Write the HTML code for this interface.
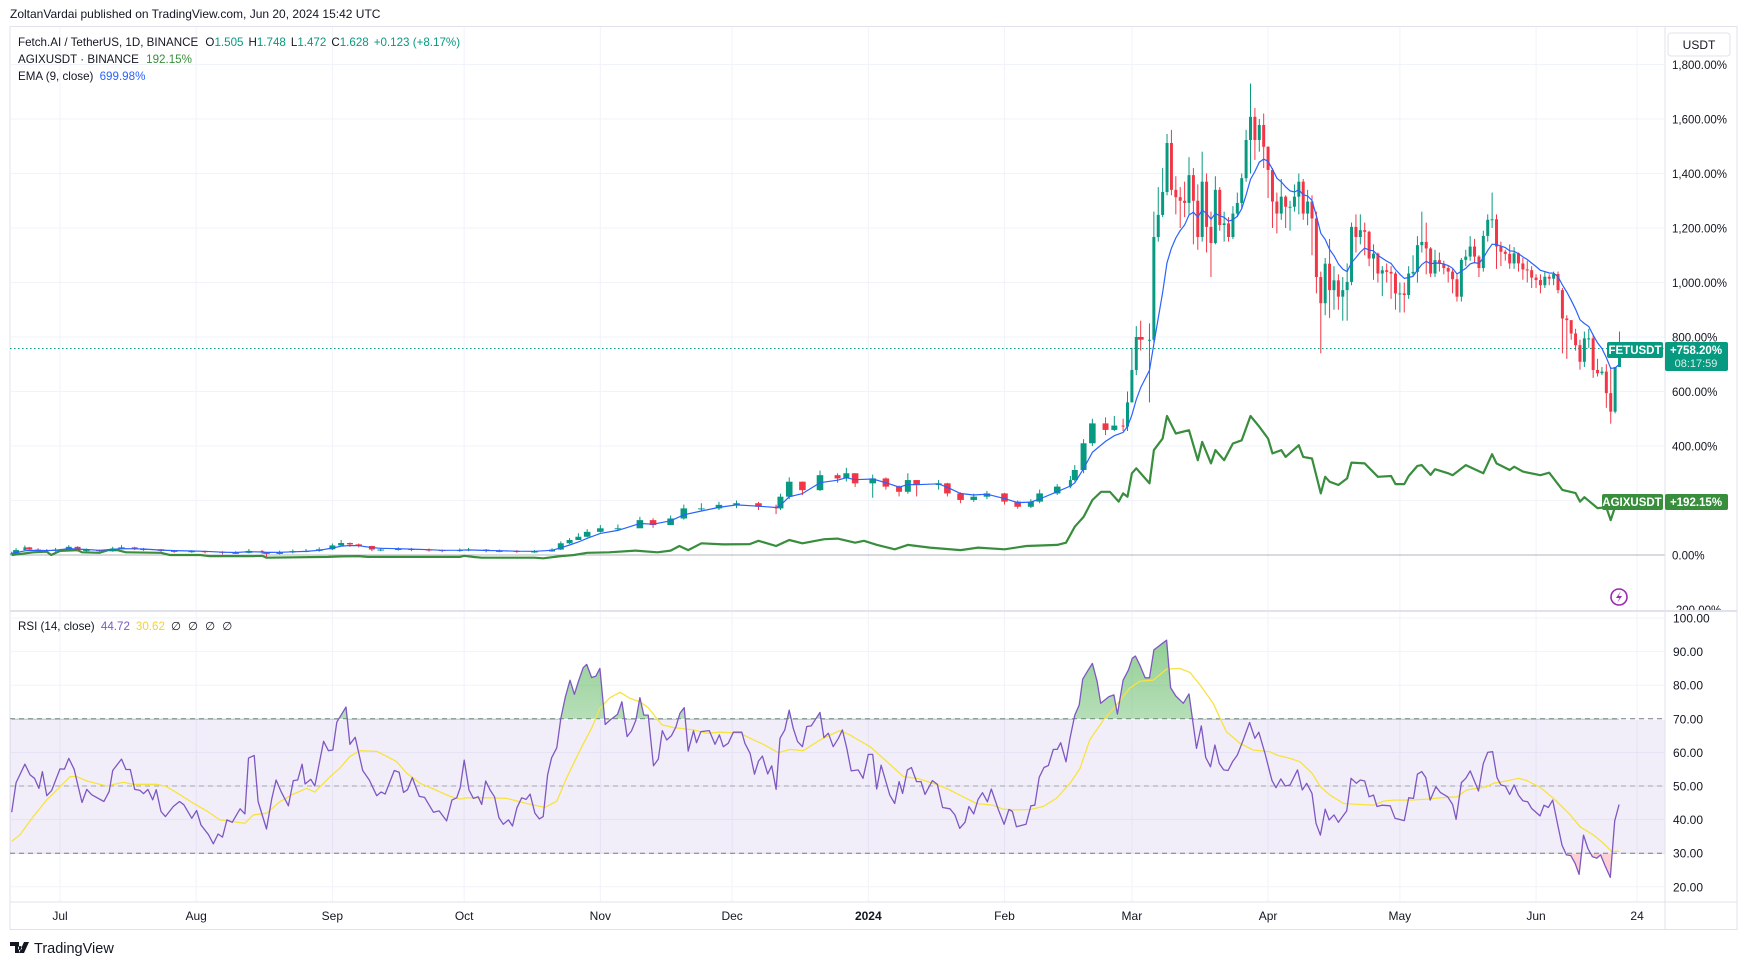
<!DOCTYPE html>
<html><head><meta charset="utf-8"><style>
html,body{margin:0;padding:0;background:#fff;}
svg{display:block;font-family:"Liberation Sans",sans-serif;}
</style></head><body>
<svg id="chart" width="1747" height="965" viewBox="0 0 1747 965" xmlns="http://www.w3.org/2000/svg">
<defs>
<clipPath id="mainClip"><rect x="10" y="27" width="1655" height="583"/></clipPath>
<clipPath id="rsiClip"><rect x="10" y="612" width="1655" height="290"/></clipPath>
<clipPath id="axisClip"><rect x="1665" y="27" width="72" height="583"/></clipPath>
<clipPath id="obc"><rect x="0" y="600" width="1747" height="120"/></clipPath>
<clipPath id="osc"><rect x="0" y="854" width="1747" height="60"/></clipPath>
<linearGradient id="obGrad" x1="0" y1="0" x2="0" y2="1"><stop offset="0" stop-color="#4caf50" stop-opacity="0.6"/><stop offset="1" stop-color="#4caf50" stop-opacity="0.02"/></linearGradient>
<linearGradient id="osGrad" x1="0" y1="0" x2="0" y2="1"><stop offset="0" stop-color="#f23645" stop-opacity="0.02"/><stop offset="1" stop-color="#f23645" stop-opacity="0.25"/></linearGradient>
</defs>
<text x="10" y="18" font-size="12" fill="#131722">ZoltanVardai published on TradingView.com, Jun 20, 2024 15:42 UTC</text>
<rect x="10" y="26.5" width="1727" height="903" fill="#fff" stroke="#e0e3eb"/>
<g id="grid"></g>
<rect x="10" y="720" width="1655" height="134" fill="#7e57c2" fill-opacity="0.1"/>
<g id="rsiGrid"></g>
<g id="mainPlot" clip-path="url(#mainClip)"></g>
<g id="rsiPlot" clip-path="url(#rsiClip)"></g>
<line x1="10" y1="611" x2="1737" y2="611" stroke="#e0e3eb" stroke-width="2"/>
<line x1="1665" y1="27" x2="1665" y2="930" stroke="#e0e3eb"/>
<line x1="10" y1="902" x2="1737" y2="902" stroke="#e0e3eb"/>
<g id="axes"></g>
<g font-size="11.6" fill="#131722">
<text x="18" y="46">Fetch.AI / TetherUS, 1D, BINANCE <tspan dx="4">O</tspan><tspan fill="#089981">1.505</tspan><tspan dx="5">H</tspan><tspan fill="#089981">1.748</tspan><tspan dx="5">L</tspan><tspan fill="#089981">1.472</tspan><tspan dx="5">C</tspan><tspan fill="#089981">1.628</tspan><tspan dx="5" fill="#089981">+0.123 (+8.17%)</tspan></text>
<text x="18" y="63">AGIXUSDT · BINANCE <tspan dx="4" fill="#388e3c">192.15%</tspan></text>
<text x="18" y="80">EMA (9, close) <tspan dx="3" fill="#2962ff">699.98%</tspan></text>
</g>
<g font-size="11.6" fill="#131722">
<text x="18" y="630">RSI (14, close) <tspan dx="3" fill="#7e57c2">44.72</tspan><tspan dx="6" fill="#f2d23a">30.62</tspan><tspan dx="6">∅</tspan><tspan dx="7">∅</tspan><tspan dx="7">∅</tspan><tspan dx="7">∅</tspan></text>
</g>
<g><rect x="1668" y="33" width="62" height="23" rx="3" fill="#fff" stroke="#e0e3eb"/><text x="1699" y="49" font-size="12" text-anchor="middle" fill="#131722">USDT</text></g>
<g>
<rect x="1607" y="342" width="56" height="16" rx="2" fill="#089981"/><text x="1635" y="354" font-size="11.5" font-weight="bold" text-anchor="middle" fill="#fff">FETUSDT</text>
<rect x="1665" y="342" width="63" height="29" rx="2" fill="#089981"/><text x="1696" y="354" font-size="11.5" font-weight="bold" text-anchor="middle" fill="#fff">+758.20%</text><text x="1696" y="367" font-size="11" text-anchor="middle" fill="#d5f0ea">08:17:59</text>
</g>
<g>
<rect x="1602" y="494" width="61" height="16" rx="2" fill="#388e3c"/><text x="1632" y="506" font-size="11.5" font-weight="bold" text-anchor="middle" fill="#fff">AGIXUSDT</text>
<rect x="1665" y="494" width="63" height="16" rx="2" fill="#388e3c"/><text x="1696" y="506" font-size="11.5" font-weight="bold" text-anchor="middle" fill="#fff">+192.15%</text>
</g>
<g><circle cx="1619" cy="597" r="8" fill="#fff" stroke="#9c27b0" stroke-width="1.6"/><path d="M1621 591 L1616 598 L1619.5 598 L1617 603 L1622 596 L1618.5 596 Z" fill="#9c27b0"/></g>
<g><path d="M10 942 H19 V953 H15 V946 H10 Z M20 946 a2 2 0 1 0 0.01 0 Z M24 942 H29 L24 953 H19 Z" fill="#131722"/><text x="34" y="953" font-size="14.5" fill="#131722">TradingView</text></g>
</svg>
<script>
// ---------- data ----------
const candleDays=[0,1,3,4,6,8,10,13,15,17,20,23,25,28,30,34,37,41,44,48,51,54,57,58,61,64,67,70,73,75,77,79,82,84,88,91,95,98,102,104,108,111,115,119,123,125,127,129,131,134,138,143,146,150,153,157,161,165,170,174,175,177,180,184,188,190,192,196,199,202,204,206,211,213,216,219,222,226,229,232,234,238,241,242,244,246,249,251,253,254,255,256,257,259,260,261,262,263,264,265,266,267,268,269,270,271,272,273,274,275,276,277,278,279,280,281,282,283,284,285,286,287,288,289,290,291,292,293,294,295,296,297,298,299,300,301,302,303,304,305,306,307,308,309,310,311,312,313,314,315,316,317,318,319,320,321,322,323,324,325,326,327,328,329,330,331,332,333,334,335,336,337,338,339,340,341,342,343,344,345,346,347,348,349,350,351,352,353,354,355,356,357,358,359,360,361,362,363,364,365,366];
const candleClose=[6,18,28,20,18,15,20,30,18,18,14,24,28,22,21,15,14,14,12,8,8,15,10,4,10,14,15,21,35,44,39,33,20,20,22,20,18,15,18,20,15,15,13,13,20,43,55,67,85,98,98,128,110,134,171,171,184,190,177,171,214,269,238,293,281,300,263,281,251,232,275,257,263,226,202,214,226,196,177,196,226,251,275,312,410,483,459,475,471,560,679,800,790,790,1167,1248,1332,1512,1340,1313,1300,1292,1394,1300,1167,1370,1204,1145,1340,1211,1217,1167,1253,1292,1383,1523,1608,1523,1578,1498,1413,1297,1253,1315,1278,1278,1315,1370,1253,1297,1235,1020,924,1069,972,1008,948,972,1002,1204,1167,1192,1186,1088,1106,1033,1045,1039,1033,960,960,954,1033,1039,1137,1149,1125,1033,1082,1069,1053,1040,1012,948,1083,1095,1132,1095,1053,1171,1230,1232,1132,1113,1105,1070,1107,1070,1048,1045,1018,1009,990,1021,1014,1031,972,868,862,813,770,709,795,795,679,667,673,594,526,690,758];
const candleHigh=[12,25,35,30,25,22,26,36,32,24,20,30,36,30,26,22,18,18,16,14,14,22,18,10,16,20,22,28,42,55,46,42,34,26,28,26,24,20,24,26,22,20,18,18,25,50,62,80,95,110,112,140,135,145,185,190,195,200,195,185,225,285,270,310,300,320,300,295,285,255,300,275,275,265,230,225,235,228,200,205,240,260,290,330,425,500,505,510,500,600,760,840,860,850,1260,1350,1420,1545,1560,1390,1350,1370,1460,1420,1360,1480,1400,1260,1390,1350,1260,1240,1280,1330,1400,1560,1730,1640,1600,1620,1500,1420,1330,1380,1320,1300,1360,1400,1380,1340,1320,1260,1040,1090,1160,1060,1030,1020,1070,1220,1250,1250,1220,1190,1140,1110,1060,1070,1060,1040,1000,1000,1060,1100,1170,1260,1220,1130,1120,1110,1080,1060,1050,1030,1090,1120,1170,1160,1100,1190,1250,1330,1250,1150,1120,1140,1130,1110,1090,1080,1060,1030,1030,1040,1030,1040,1040,980,880,840,830,790,820,830,810,720,690,700,690,640,820];
const candleLow=[2,5,18,15,12,10,12,18,14,12,8,12,20,18,15,10,8,8,6,2,4,6,4,-6,2,6,10,12,18,32,30,28,14,14,16,14,12,10,12,14,10,10,8,8,12,18,40,55,65,82,88,100,100,110,130,160,165,172,165,150,165,205,220,235,265,270,250,210,240,215,225,215,240,215,190,195,205,185,170,172,190,220,245,270,300,400,440,455,455,455,640,660,750,560,780,1150,1240,1320,1320,1250,1200,1240,1250,1140,1120,1150,1110,1020,1140,1190,1150,1150,1160,1240,1270,1370,1400,1450,1480,1420,1310,1200,1180,1230,1200,1190,1260,1250,1230,1210,1100,960,740,880,870,900,900,860,860,990,1110,1140,1100,1060,1010,1000,950,1000,940,900,890,890,940,1020,1000,1110,1030,1020,1020,1040,1030,1000,960,930,930,1060,1080,1070,1020,1040,1150,1200,1050,1060,1080,1050,1050,1040,1010,1000,980,980,960,980,990,990,960,740,720,790,750,680,690,760,650,655,660,540,482,520,700];
const agixDays=[0,5,8,9,11,15,16,20,22,24,26,34,36,43,45,55,57,58,72,75,79,81,102,103,105,107,119,121,125,128,131,136,142,147,150,152,154,157,162,168,170,174,177,180,185,188,192,194,197,201,204,209,216,220,226,231,238,240,242,244,246,248,250,252,253,254,255,256,259,260,262,263,265,268,270,271,273,274,276,278,280,282,284,286,287,289,290,293,294,296,298,299,300,302,304,305,308,311,314,315,317,318,320,321,323,324,327,328,331,335,337,338,341,342,344,348,350,353,356,357,358,361,363,364,365,366];
const agixVals=[0,10,12,0,15,18,10,8,18,18,10,8,0,0,-4,-4,-3,-10,-7,-5,-4,-7,-7,-3,-7,-10,-10,-12,-4,0,8,10,16,10,16,33,18,43,39,40,52,33,55,43,58,60,45,52,37,21,37,27,18,27,21,33,37,45,104,140,202,232,232,196,226,214,300,318,263,385,427,510,446,458,348,415,336,385,348,409,421,510,471,427,373,385,360,403,360,354,226,287,269,257,281,339,336,287,290,260,260,290,327,330,294,315,300,293,330,300,370,336,312,324,306,293,302,239,227,196,212,172,175,128,177,192];
const rsiDays=[0,1,3,4.2,5.2,6.2,7,8,9.1,11,12,13,14.2,16,17.1,18.2,21,22.2,23,25,26,27,28,29.2,30,31,32.1,32.9,34,35,36.8,38.2,39.2,41,42.1,43.1,44.8,45.9,47,48,49,50.2,52,53.1,53.9,55.2,56.1,58,59.2,60.2,61.3,63,64.1,65.1,66.1,66.8,68.1,69,71,72.1,73.1,74,76.1,77,78.2,79.9,81.4,83.1,84.1,85,87.1,88.2,89.2,90.1,91.2,92.8,94,96,97.3,99,100.2,101.3,102.1,103,104.1,105.1,106.2,107,107.9,108.9,109.9,110.9,111.9,113.1,114,115,116.1,117.1,118,119.1,120.1,121,122,122.9,124.1,125,126,127.1,128.1,129,130.1,130.9,132,133,133.9,135.1,136.2,137.9,138.9,140.1,141.1,142.1,143,143.9,144.9,146.1,147.2,148.1,149.1,150.2,151.2,152.1,153.1,154,155.2,155.9,156.9,158.8,160.1,161.1,162,163.1,164.3,166.2,166.9,168.1,169.1,170,170.9,172.1,173,174,174.9,176,177,177.9,178.9,180,181,182,182.9,184,184.9,185.9,187,188.2,189.1,190.1,191.1,192.7,193.8,195,196,196.9,197.9,199.9,201,202,202.8,203.9,204.8,206,207,207.9,209.6,210.7,211.9,213.6,214.7,215.8,217,217.9,219,220,221,222.1,223,224.6,225.9,227,227.8,228.7,230.9,232,232.9,233.9,235,236,237.1,238,238.8,240,240.9,242,243,243.8,244.8,246,247.1,247.9,249.8,250.9,251.7,253,254.2,255.1,255.8,256.8,258,259,260,262.9,263.8,265,266.7,268,269.7,270.8,271.8,272.9,273.9,274.9,275.9,276.9,277.9,279,280.2,281.8,283,283.9,285.3,286.4,286.9,287.8,288.9,289.9,291,292.7,293.8,294.8,296,296.9,297.9,299,299.9,301,302,303.9,304.9,306.1,307,308,309,310,310.8,311.9,313.8,314.9,317,318,319.1,320,321,321.9,322.9,324.2,325.2,326.9,328,328.8,330,331,332,333.9,335,336,337.1,338.1,339,340,341,342,343,344,345.1,346,347.9,348.8,349.8,350.8,351.9,352.9,353.9,354.9,355.9,356.8,357.8,358.8,359.8,360.8,361.7,362.7,363.9,364.9,365.9];
const rsiVals=[42.2,51,56.5,53.3,52.3,49.3,54.3,47.1,48.7,55.1,55,58.2,55,45.1,49,47.4,45.4,48.4,54.6,58,54.9,54.9,49,48.7,47.7,49,45.9,48.9,42.4,40.9,43.9,45.4,44.4,40.4,42.7,38.4,35.5,32.8,35.7,34.8,39.9,39.2,43.2,41.7,58.3,59.1,45.4,37.2,46.1,51.8,48.4,44.1,51.6,51.8,56.5,50.6,52,50,63.3,60.5,60.7,69,73.5,62.4,64.5,54.6,51.8,47.1,48.2,47.6,54.6,54.1,48.1,48.9,52.5,46.9,46.6,42.2,42.6,39.6,45.8,46.5,49.5,57.7,48.8,46.3,46.8,44.5,51.5,48.8,46.8,40.6,38.6,39.9,38.1,43.5,46.5,46,47.6,41.9,40.2,40.9,53.3,58.4,61.4,70.1,76.3,81.5,77.3,81.1,85.2,86.2,82.3,82.7,85,68.3,69.6,71.3,75.1,64.7,66.4,69.6,76.3,71.1,71.1,56,58,66.5,63.7,65,67.6,71.6,73.3,60.4,66.4,62.9,66.2,66.5,62.4,65.2,61.7,62.7,66,66,62.7,59.7,53.5,57.4,58.9,53.6,56,49,64.2,66.7,72.6,67.2,63.2,61.7,67.7,67.9,69.7,71.9,64.4,65.7,61.7,64.2,66.7,61.2,54.5,54.8,52.3,59.4,59.4,49.1,56.2,47.3,44.8,51.3,47.8,54.8,55.5,51.3,51.3,47.5,51.6,50.5,43.6,43.2,41.4,37.4,39.2,43.9,41.7,46,48,45.3,49.1,43,38.6,43,42.4,37.9,38.6,44.1,44.3,52.6,55.5,56.1,60.9,60.9,62.9,57.2,64.2,71.1,74.1,81.8,84,86.5,81,74.6,76.6,77.1,71.4,81.5,84.5,88,88.7,86,82.2,82.2,90.5,93.4,79.3,76.8,74.6,77.4,61.2,67.9,58.5,55.7,62.2,56.7,54.8,54.6,57.2,59.2,63.2,68.9,64.2,66,59.7,54.1,51.6,49.5,52.1,50,50.3,54.8,48.8,50.8,47.8,38.9,35.4,43.1,39.9,41.4,39.2,42.6,52.3,50.8,51.8,51.5,46.8,47.3,43.9,44.3,44.1,40.4,39.7,46.5,46.3,53.5,54.3,52.5,45.8,49.8,48.1,46.8,44.5,40.1,51,52.3,54.5,48.5,56.7,60,60.2,52.5,50.3,50,47.5,50.3,47.3,45.6,45.3,43.3,41.1,44.3,43.6,45.8,38.6,32.4,29.5,29.3,27,23.7,35.4,31.4,29,28.5,29.5,26.3,22.8,39.6,44.5];
const maDays=[0,1.9,4.9,8,11,13.3,14.8,17.1,21.6,25.4,27.7,33,35.3,38.3,41.3,44.4,47.4,50.5,53.1,55,58,61.1,64.1,67.1,69,72.5,74.7,77,79.3,83.1,85.4,87.6,89.9,93,96,99.8,102.1,103.6,108.9,112.7,117.2,121.4,124.1,126.3,129.4,132,133.9,136.2,138.5,140.7,143,144.9,148,150.6,155.2,158.2,161.2,165.8,168.1,171.1,174.5,177.2,180.2,184,188.5,190.8,193.1,195.4,198.4,203,206,209.8,212.8,216.6,219.6,223.4,225.7,228.7,231.8,234.8,237.8,240.9,243.2,245.4,248.5,251.5,254.5,256.8,259.8,262.9,265.9,268.2,270.5,273.5,276.5,279.6,282.6,286.4,288,291,293.3,296,297.9,300.1,303.2,307,310,312.3,314.6,318.3,322.1,325.2,329,331.2,333.5,335.8,337.3,340.3,343,344.9,347.9,351,354.8,357,360.1,362.4,364.2,365.9];
const maVals=[33.5,35.5,40.9,45.9,49.8,52.8,52.8,51.5,50,51.1,50.5,50.5,49.8,47.4,44.9,42.6,39.9,39.4,38.9,41.4,41.9,45.4,47.6,49.3,48.2,52.8,55.3,58.8,60.5,60.3,58.8,57.3,53.8,50.8,49.1,46.9,46.1,46.5,46.5,46.3,44.8,43.6,45.5,52.3,60.7,67.2,73.1,76.3,77.9,76.1,75.1,73.3,68.2,67.4,66.7,65.7,66,65.7,64.2,62.4,59.9,60.9,60.5,63.7,66.5,65.2,63.4,61.7,58.2,52.8,52.3,50.8,49.3,46.8,44.8,44.3,43.1,42.9,43,43.9,46.3,50.8,55.3,63.7,69.6,74.1,79.1,81.2,81.5,84.8,85,83.8,80.1,74.6,66.2,62.7,60.7,60.2,59.2,58.2,57.2,53.8,49.8,47.3,44.8,44.5,44.3,45.5,45.8,45.8,46.1,46.5,46.8,48.8,49.3,49.8,50.8,51.5,52.3,51.6,49.6,46.3,41.4,37.9,35.4,32.9,30.5,30.6];
const pctTicks=[1800,1600,1400,1200,1000,800,600,400,200,0,-200];
const rsiTicks=[100,90,80,70,60,50,40,30,20];
const monthLabels=["Jul","Aug","Sep","Oct","Nov","Dec","2024","Feb","Mar","Apr","May","Jun","24"];
const monthDays=[11,42,73,103,134,164,195,226,255,286,316,347,370];

// ---------- scales ----------
const NS="http://www.w3.org/2000/svg";
function X(d){return 60+(d-11)*4.393;}
function Y(p){return 555-p*0.2725;}
function R(v){return 618+(100-v)*3.36;}
function mk(tag,attrs,parent){const e=document.createElementNS(NS,tag);for(const k in attrs)e.setAttribute(k,attrs[k]);parent.appendChild(e);return e;}
const grid=document.getElementById('grid'),rsiGrid=document.getElementById('rsiGrid'),main=document.getElementById('mainPlot'),rsiP=document.getElementById('rsiPlot'),axes=document.getElementById('axes');

monthDays.forEach((d,i)=>{
  const l=mk('line',{x1:X(d),x2:X(d),y1:27,y2:902,stroke:'#f0f3fa'},grid);
  
  
  const t=mk('text',{x:X(d),y:920,'font-size':12,'text-anchor':'middle',fill:'#131722'},axes);
  if(monthLabels[i]==='2024')t.setAttribute('font-weight','bold');
  t.textContent=monthLabels[i];
  
  
});
const axClip=mk('g',{'clip-path':'url(#axisClip)'},axes);
pctTicks.forEach(p=>{
  if(p>-200){const l=mk('line',{x1:10,x2:1665,y1:Y(p),y2:Y(p),stroke:'#f0f3fa'},grid);
  
  }
  const t=mk('text',{x:1672,y:Y(p)+4.5,'font-size':11.5,fill:'#131722'},axClip);
  t.textContent=(p<0?'-':'')+Math.abs(p).toLocaleString('en-US')+'.00%';
  
  
});
mk('line',{x1:10,x2:1665,y1:Y(0),y2:Y(0),stroke:'#b2b5be'},grid);
rsiTicks.forEach(v=>{
  const l=mk('line',{x1:10,x2:1665,y1:R(v),y2:R(v),stroke:'#f0f3fa'},grid);
  
  
  const t=mk('text',{x:1673,y:R(v)+4.5,'font-size':12,fill:'#131722'},axes);
  t.textContent=v.toFixed(2);
  
  
});
[[70,'#787b86'],[50,'#a3a6af'],[30,'#787b86']].forEach(([v,c])=>{
  const l=mk('line',{x1:10,x2:1665,y1:R(v),y2:R(v),stroke:c,'stroke-dasharray':'5 4'},rsiGrid);
  
  
});

let ap='';agixDays.forEach((d,i)=>{ap+=(i?'L':'M')+X(d).toFixed(1)+' '+Y(agixVals[i]).toFixed(1);});
const agl=mk('path',{d:ap,fill:'none',stroke:'#388e3c','stroke-width':2.2,'stroke-linejoin':'round'},main);



const lastY=Y(candleClose[candleClose.length-1]);
const dl=mk('line',{x1:10,x2:1665,y1:lastY,y2:lastY,stroke:'#089981','stroke-dasharray':'1.5 2.5'},main);



for(let i=0;i<candleDays.length;i++){
  const o=i?candleClose[i-1]:candleClose[0]*0.6, c=candleClose[i];
  const up=c>=o, col=up?'#089981':'#f23645';
  const gap=i<candleDays.length-1?candleDays[i+1]-candleDays[i]:1;
  const w=Math.min(gap,2.2)*4.393*0.68;
  const x=X(candleDays[i]);
  const g=mk('g',{},main);
  
  
  mk('line',{x1:x,x2:x,y1:Y(candleHigh[i]),y2:Y(candleLow[i]),stroke:col,'stroke-width':1},g);
  const top=Y(Math.max(o,c)),bot=Y(Math.min(o,c));
  mk('rect',{x:x-w/2,y:top,width:w,height:Math.max(bot-top,1),fill:col},g);
}
let ema=candleClose[0],ep='';
for(let i=0;i<candleDays.length;i++){
  if(i){const gap=candleDays[i]-candleDays[i-1];const a=1-Math.pow(0.8,gap);ema=ema+a*(candleClose[i]-ema);}
  ep+=(i?'L':'M')+X(candleDays[i]).toFixed(1)+' '+Y(ema).toFixed(1);
}
const el=mk('path',{d:ep,fill:'none',stroke:'#2962ff','stroke-width':1.2},main);



let rp='';rsiDays.forEach((d,i)=>{rp+=(i?'L':'M')+X(d).toFixed(1)+' '+R(rsiVals[i]).toFixed(1);});
const first=X(rsiDays[0]),last=X(rsiDays[rsiDays.length-1]);
const ob=mk('path',{d:rp+'L'+last+' '+R(70)+'L'+first+' '+R(70)+'Z',fill:'url(#obGrad)','clip-path':'url(#obc)'},rsiP);


const os=mk('path',{d:rp+'L'+last+' '+R(30)+'L'+first+' '+R(30)+'Z',fill:'url(#osGrad)','clip-path':'url(#osc)'},rsiP);


let mp='';maDays.forEach((d,i)=>{mp+=(i?'L':'M')+X(d).toFixed(1)+' '+R(maVals[i]).toFixed(1);});
const ml=mk('path',{d:mp,fill:'none',stroke:'#f7e33f','stroke-width':1.3},rsiP);


const rl=mk('path',{d:rp,fill:'none',stroke:'#7e57c2','stroke-width':1.3,'stroke-linejoin':'round'},rsiP);


</script>
</body></html>
